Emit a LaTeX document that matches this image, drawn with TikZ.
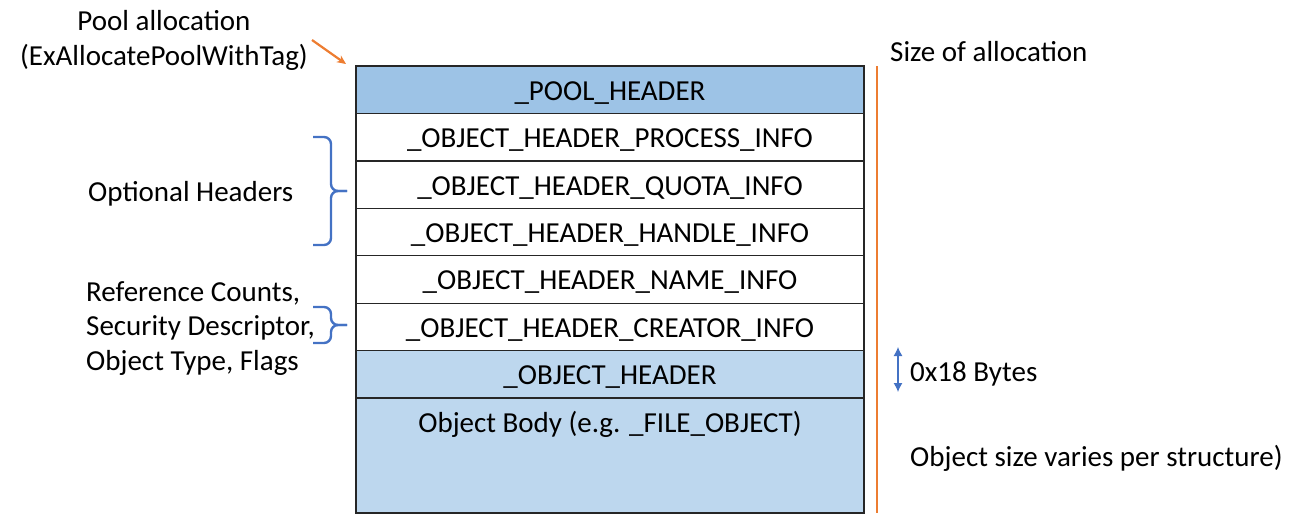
\documentclass[tikz,border=0pt]{standalone}
\usepackage{fontspec}
\setmainfont{Carlito}
\usetikzlibrary{positioning,calc,arrows.meta}

\begin{document}
\begin{tikzpicture}[x=1pt,y=-1pt,
font=\fontsize{29}{34.5}\selectfont,
row/.style={draw=black!85, line width=1.3pt, minimum width=508pt, minimum height=47.43pt, inner sep=0pt, outer sep=0pt, text height=21pt, text depth=0pt},
note/.style={inner sep=0pt, text=black},
brace/.style={draw=bracecolor, line width=2.4pt, rounded corners=7pt},
pointer/.style={draw=sizecolor, line width=2.2pt, -{Stealth[length=9pt,width=8pt]}},
sizeline/.style={draw=sizecolor, line width=2.4pt},
bytesarrow/.style={draw=bracecolor, line width=1.1pt, {Latex[length=9pt,width=9pt]}-{Latex[length=9pt,width=9pt]}}]

% Define diagram colors
\definecolor{poolblue}{RGB}{157,195,230}
\definecolor{objblue}{RGB}{189,215,238}
\definecolor{bracecolor}{RGB}{68,114,196}
\definecolor{sizecolor}{RGB}{237,125,49}

\useasboundingbox (0,0) rectangle (1306,531);

% The allocation, top to bottom
\node [row, fill=poolblue, anchor=north] (pool) at (610,66) {\_POOL\_HEADER};
\node [row, below=0pt of pool] (process) {\_OBJECT\_HEADER\_PROCESS\_INFO};
\node [row, below=0pt of process] (quota) {\_OBJECT\_HEADER\_QUOTA\_INFO};
\node [row, below=0pt of quota] (handle) {\_OBJECT\_HEADER\_HANDLE\_INFO};
\node [row, below=0pt of handle] (name) {\_OBJECT\_HEADER\_NAME\_INFO};
\node [row, below=0pt of name] (creator) {\_OBJECT\_HEADER\_CREATOR\_INFO};
\node [row, fill=objblue, below=0pt of creator] (objheader) {\_OBJECT\_HEADER};
\node [row, fill=objblue, below=0pt of objheader, minimum height=115pt,
    label={[note,anchor=center,yshift=-26.2pt]north:Object Body (e.g. \_FILE\_OBJECT)}] (body) {};

% Notes on the left
\node [note, align=center] (alloc) at (164,40.5) {Pool allocation\\(ExAllocatePoolWithTag)};
\node [note, anchor=west] (optional) at (88,193.5) {Optional Headers};
\node [note, anchor=west, align=left] (refs) at (86,328.5) {Reference Counts,\\Security Descriptor,\\Object Type, Flags};

% Notes on the right
\node [note, anchor=west] (sizeof) at (890,52) {Size of allocation};
\node [note, anchor=west] (bytes) at (910,374) {0x18 Bytes};
\node [note, anchor=west] (objsize) at (910,458) {Object size varies per structure)};

% Connectors
\coordinate (allocTail) at (312,40);
\coordinate (allocTip) at (346,64);
\draw [pointer] (allocTail) -- (allocTip);

% braces: two halves meeting at the tip
\coordinate (optTop) at (313,137);
\coordinate (optBot) at (313,245);
\coordinate (optTip) at (347,191);
\draw [brace] (optTop) -| ($(optTip)+(-16,0)$) -- (optTip);
\draw [brace] (optBot) -| ($(optTip)+(-16,0)$) -- (optTip);
\coordinate (refTop) at (313,307);
\coordinate (refBot) at (313,343);
\coordinate (refTip) at (347,325);
\draw [brace] (refTop) -| ($(refTip)+(-16,0)$) -- (refTip);
\draw [brace] (refBot) -| ($(refTip)+(-16,0)$) -- (refTip);

\coordinate (sizeTop) at (877,66);
\coordinate (sizeBot) at (877,513);
\draw [sizeline] (sizeTop) -- (sizeBot);

\coordinate (bytesTop) at (898,347);
\coordinate (bytesBot) at (898,392);
\draw [bytesarrow] (bytesTop) -- (bytesBot);
\end{tikzpicture}
\end{document}
